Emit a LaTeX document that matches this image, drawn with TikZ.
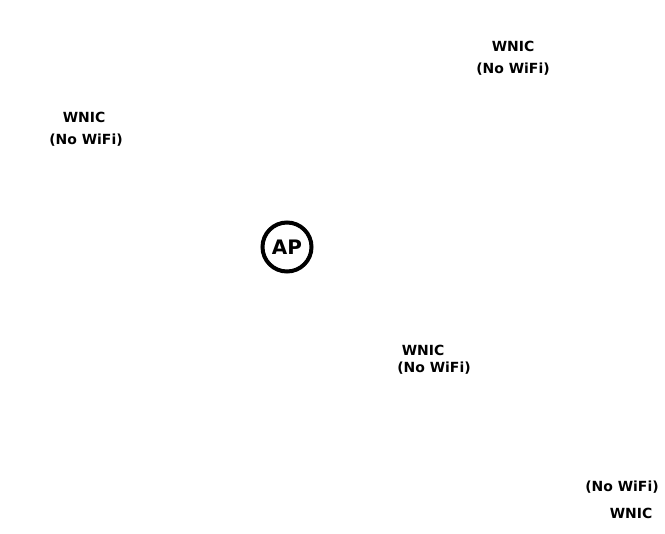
\documentclass[tikz,border=0pt]{standalone}
\usepackage{fontspec}
\setmainfont{DejaVu Sans}
\begin{document}
\begin{tikzpicture}[x=1bp,y=-1bp,
  lbl/.style={font=\bfseries\fontsize{14}{16}\selectfont, inner sep=0pt, anchor=center},
  apnode/.style={circle, draw, line width=4bp, minimum size=49bp, inner sep=0pt, font=\bfseries\fontsize{20}{22}\selectfont}]
\useasboundingbox (0,0) rectangle (665,534);
\fill[white] (0,0) rectangle (665,534);
\node[apnode] (ap) at (287,247) {AP};
\node[lbl] (w1) at (513,46) {WNIC};
\node[lbl] (n1) at (513,69) {(No WiFi)};
\node[lbl] (w2) at (84,117) {WNIC};
\node[lbl] (n2) at (86,140) {(No WiFi)};
\node[lbl] (w3) at (423,350) {WNIC};
\node[lbl] (n3) at (434,368) {(No WiFi)};
\node[lbl] (n4) at (622,487) {(No WiFi)};
\node[lbl] (w4) at (631,513) {WNIC};
\end{tikzpicture}
\end{document}
